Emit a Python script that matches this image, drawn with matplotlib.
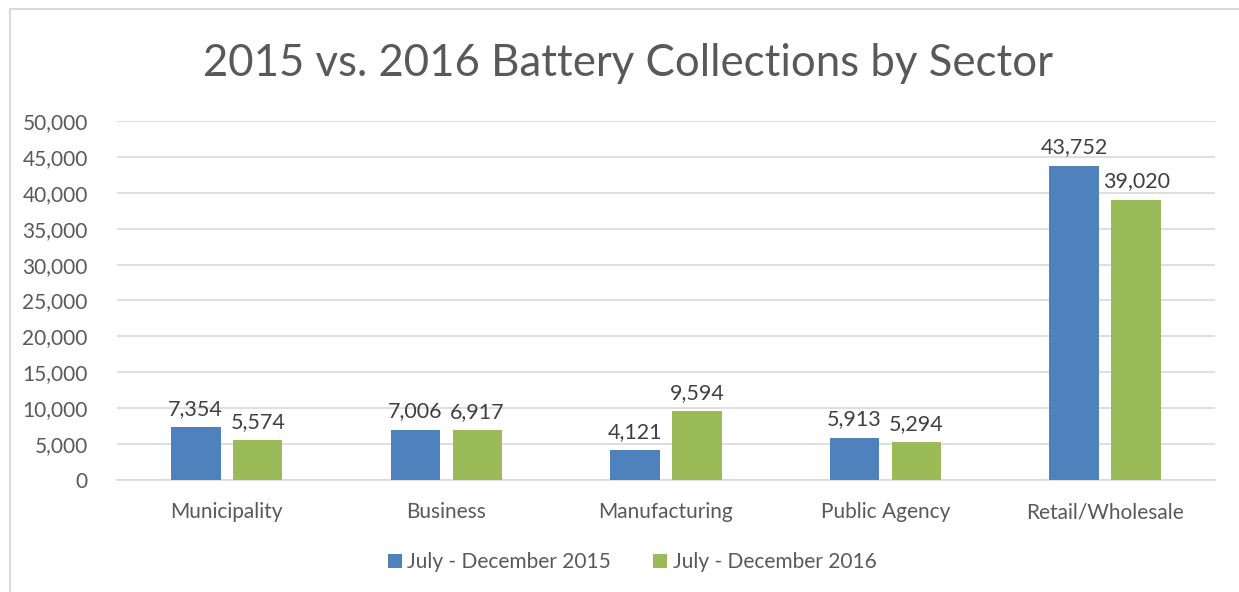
import matplotlib.pyplot as plt
from matplotlib.lines import Line2D
from matplotlib.ticker import FuncFormatter
import numpy as np

categories = ["Municipality", "Business", "Manufacturing", "Public Agency", "Retail/Wholesale"]
values_2015 = [7354, 7006, 4121, 5913, 43752]
values_2016 = [5574, 6917, 9594, 5294, 39020]
series_names = ["July - December 2015", "July - December 2016"]
title = "2015 vs. 2016 Battery Collections by Sector"

blue = "#4F81BD"
green = "#9BBB59"
text_gray = "#595959"
grid_gray = "#D9D9D9"

plt.rcParams["font.family"] = ["Lato", "DejaVu Sans"]

fig = plt.figure(figsize=(12.39, 5.92), dpi=100)
ax = fig.add_axes([0.0944, 0.1892, 0.8862, 0.6064])

x = np.arange(len(categories))
width = 0.225
offset = 0.141

bars1 = ax.bar(x - offset, values_2015, width, color=blue, label=series_names[0], zorder=3)
bars2 = ax.bar(x + offset, values_2016, width, color=green, label=series_names[1], zorder=3)

for bars in (bars1, bars2):
    for b in bars:
        ax.annotate(f"{int(b.get_height()):,}",
                    (b.get_x() + b.get_width() / 2, b.get_height()),
                    xytext=(0, 6), textcoords="offset points",
                    ha="center", va="bottom", fontsize=15.5, color="#404040")

ax.set_xlim(-0.5, len(categories) - 0.5)
ax.set_ylim(0, 50000)
ax.set_yticks(np.arange(0, 50001, 5000))
ax.yaxis.set_major_formatter(FuncFormatter(lambda v, p: f"{int(v):,}"))
ax.set_xticks(x)
ax.set_xticklabels(categories)
ax.tick_params(axis="both", length=0, labelsize=15, labelcolor=text_gray)
ax.tick_params(axis="x", pad=16)
ax.tick_params(axis="y", pad=21)
ax.grid(axis="y", color=grid_gray, linewidth=1.2, zorder=0)
for s in ["top", "right", "left"]:
    ax.spines[s].set_visible(False)
ax.spines["bottom"].set_color(grid_gray)
ax.spines["bottom"].set_linewidth(1.2)

fig.text(0.507, 0.893, title, ha="center", va="center", fontsize=31.5, color=text_gray)

fig.legend(loc="center", bbox_to_anchor=(0.51, 0.05), ncol=2, frameon=False,
           fontsize=15, labelcolor=text_gray, handlelength=0.7, handleheight=0.7,
           handletextpad=0.25, columnspacing=2.0)

# outer chart border
fig.add_artist(Line2D([10 / 1239, 1.0], [1 - 8.5 / 592, 1 - 8.5 / 592],
                      transform=fig.transFigure, color="#D9D9D9", linewidth=1.5))
fig.add_artist(Line2D([10 / 1239, 10 / 1239], [0, 1 - 8.5 / 592],
                      transform=fig.transFigure, color="#D9D9D9", linewidth=1.5))

fig.savefig("out.png", dpi=100, facecolor="white")
